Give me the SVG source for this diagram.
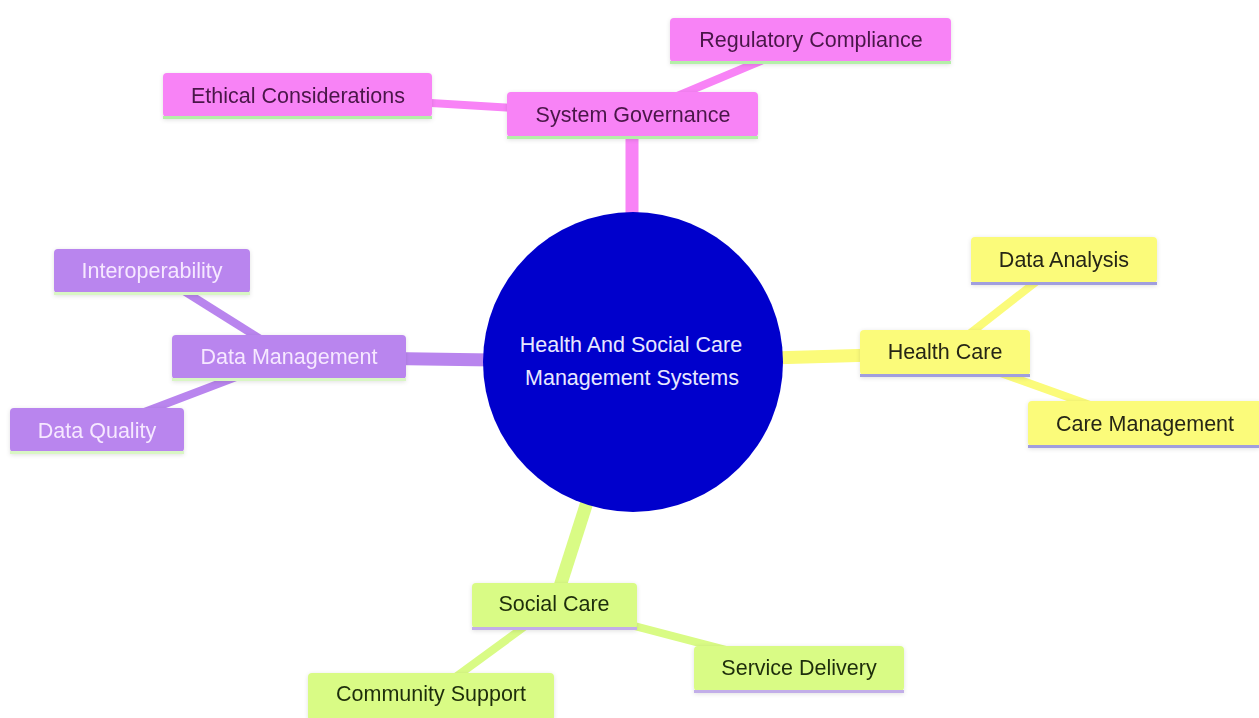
<svg xmlns="http://www.w3.org/2000/svg" width="1259" height="718" viewBox="0 0 1259 718">
<defs>
<style>
text{font-family:"Liberation Sans",Arial,sans-serif;font-size:21.5px;text-anchor:middle;dominant-baseline:central}
.e1{stroke-width:13;fill:none}
.e2{stroke-width:8;fill:none}
.pink .box{fill:#f883f6}
.pink text{fill:#4a1748}
.pink .ln{stroke:#b4efa8}
.purp .box{fill:#b985ee}
.purp text{fill:#f6e8ff}
.purp .ln{stroke:#d9f6c4}
.yel .box{fill:#fbfb7a}
.yel text{fill:#262616}
.yel .ln{stroke:#a09ede}
.grn .box{fill:#d9fb85}
.grn text{fill:#1f2d0a}
.grn .ln{stroke:#c2aee8}
.ln{stroke-width:3}
</style>
<filter id="sh" x="-10%" y="-20%" width="120%" height="150%">
<feDropShadow dx="0" dy="1" stdDeviation="2" flood-color="#000" flood-opacity="0.12"/>
</filter>
</defs>
<rect width="1259" height="718" fill="#fff"/>
<g id="connectors">
<line class="e1" stroke="#f883f6" x1="632" y1="115" x2="632" y2="362"/>
<line class="e2" stroke="#f883f6" x1="811" y1="40" x2="632" y2="115"/>
<line class="e2" stroke="#f883f6" x1="298" y1="95" x2="632" y2="115"/>
<line class="e1" stroke="#b985ee" x1="289" y1="357" x2="632" y2="362"/>
<line class="e2" stroke="#b985ee" x1="152" y1="271" x2="289" y2="357"/>
<line class="e2" stroke="#b985ee" x1="97" y1="430" x2="289" y2="357"/>
<line class="e1" stroke="#fbfb7a" x1="945" y1="353" x2="632" y2="362"/>
<line class="e2" stroke="#fbfb7a" x1="1064" y1="260" x2="945" y2="353"/>
<line class="e2" stroke="#fbfb7a" x1="1143" y1="424" x2="945" y2="353"/>
<line class="e1" stroke="#d9fb85" x1="554" y1="605" x2="632" y2="362"/>
<line class="e2" stroke="#d9fb85" x1="431" y1="695" x2="554" y2="605"/>
<line class="e2" stroke="#d9fb85" x1="799" y1="669" x2="554" y2="605"/>
</g>
<g id="root">
<circle cx="633" cy="362" r="150" fill="#0000cc"/>
<text x="631" y="345" fill="#e8e8ff">Health And Social Care</text>
<text x="632" y="378" fill="#e8e8ff">Management Systems</text>
</g>
<g id="system-governance" class="pink" filter="url(#sh)">
<rect class="box" x="507" y="92" width="251" height="45" rx="4"/>
<line class="ln" x1="507" y1="137.5" x2="758" y2="137.5"/>
<text x="633" y="115">System Governance</text>
</g>
<g id="regulatory-compliance" class="pink" filter="url(#sh)">
<rect class="box" x="670" y="18" width="281" height="44" rx="4"/>
<line class="ln" x1="670" y1="62.5" x2="951" y2="62.5"/>
<text x="811" y="40">Regulatory Compliance</text>
</g>
<g id="ethical-considerations" class="pink" filter="url(#sh)">
<rect class="box" x="163" y="73" width="269" height="44" rx="4"/>
<line class="ln" x1="163" y1="117.5" x2="432" y2="117.5"/>
<text x="298" y="96">Ethical Considerations</text>
</g>
<g id="data-management" class="purp" filter="url(#sh)">
<rect class="box" x="172" y="335" width="234" height="44" rx="4"/>
<line class="ln" x1="172" y1="379.5" x2="406" y2="379.5"/>
<text x="289" y="357">Data Management</text>
</g>
<g id="interoperability" class="purp" filter="url(#sh)">
<rect class="box" x="54" y="249" width="196" height="44" rx="4"/>
<line class="ln" x1="54" y1="293.5" x2="250" y2="293.5"/>
<text x="152" y="271">Interoperability</text>
</g>
<g id="data-quality" class="purp" filter="url(#sh)">
<rect class="box" x="10" y="408" width="174" height="44" rx="4"/>
<line class="ln" x1="10" y1="452.5" x2="184" y2="452.5"/>
<text x="97" y="431">Data Quality</text>
</g>
<g id="health-care" class="yel" filter="url(#sh)">
<rect class="box" x="860" y="330" width="170" height="45" rx="4"/>
<line class="ln" x1="860" y1="375.5" x2="1030" y2="375.5"/>
<text x="945" y="352">Health Care</text>
</g>
<g id="data-analysis" class="yel" filter="url(#sh)">
<rect class="box" x="971" y="237" width="186" height="46" rx="4"/>
<line class="ln" x1="971" y1="283.5" x2="1157" y2="283.5"/>
<text x="1064" y="260">Data Analysis</text>
</g>
<g id="care-management" class="yel" filter="url(#sh)">
<rect class="box" x="1028" y="401" width="234" height="45" rx="4"/>
<line class="ln" x1="1028" y1="446.5" x2="1259" y2="446.5"/>
<text x="1145" y="424">Care Management</text>
</g>
<g id="social-care" class="grn" filter="url(#sh)">
<rect class="box" x="472" y="583" width="165" height="45" rx="4"/>
<line class="ln" x1="472" y1="628.5" x2="637" y2="628.5"/>
<text x="554" y="604">Social Care</text>
</g>
<g id="community-support" class="grn" filter="url(#sh)">
<rect class="box" x="308" y="673" width="246" height="48" rx="4"/>
<text x="431" y="694">Community Support</text>
</g>
<g id="service-delivery" class="grn" filter="url(#sh)">
<rect class="box" x="694" y="646" width="210" height="45" rx="4"/>
<line class="ln" x1="694" y1="691.5" x2="904" y2="691.5"/>
<text x="799" y="668">Service Delivery</text>
</g>
</svg>
